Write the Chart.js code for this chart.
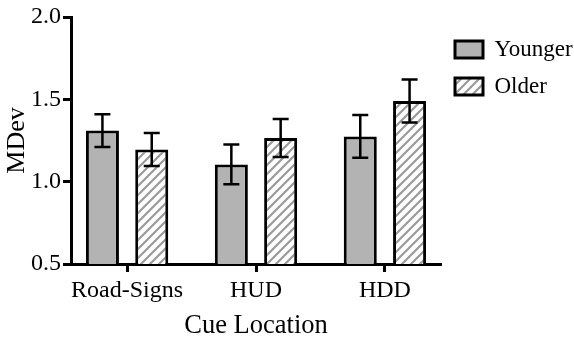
<!DOCTYPE html>
<html>
<head>
<meta charset="utf-8">
<script src="https://cdn.jsdelivr.net/npm/chart.js@4"></script>
<style>
  html, body { margin: 0; padding: 0; background: #fff; }
  #wrap { width: 574px; height: 337px; }
</style>
</head>
<body>
<div id="wrap"><canvas id="chart" width="574" height="337"></canvas></div>
<script>
const categories = ['Road-Signs', 'HUD', 'HDD'];
const youngerValues = [1.31, 1.105, 1.275];
const youngerErrors = [0.10, 0.12, 0.13];
const olderValues = [1.195, 1.265, 1.49];
const olderErrors = [0.10, 0.115, 0.13];
const yTicks = [0.5, 1.0, 1.5, 2.0];

const serif = 'Liberation Serif';

// diagonal hatch for the Older bars
function makeHatch() {
    const size = 9;
    const c = document.createElement('canvas');
    c.width = size;
    c.height = size;
    const g = c.getContext('2d');
    g.fillStyle = '#ffffff';
    g.fillRect(0, 0, size, size);
    g.strokeStyle = '#9a9a9a';
    g.lineWidth = 2.2;
    g.beginPath();
    g.moveTo(-2, size + 2); g.lineTo(size + 2, -2);
    g.moveTo(-2, 2); g.lineTo(2, -2);
    g.moveTo(size - 2, size + 2); g.lineTo(size + 2, size - 2);
    g.stroke();
    return g.createPattern(c, 'repeat');
}

const errorBars = {
    id: 'errorBars',
    afterDatasetsDraw(chart) {
        const ctx = chart.ctx;
        const yScale = chart.scales.y;
        ctx.save();
        ctx.strokeStyle = '#000';
        ctx.lineWidth = 2.5;
        chart.data.datasets.forEach((ds, di) => {
            const meta = chart.getDatasetMeta(di);
            meta.data.forEach((bar, i) => {
                const v = ds.data[i].y;
                const e = ds.errors[i];
                const top = yScale.getPixelForValue(v + e);
                const bot = yScale.getPixelForValue(v - e);
                const cap = 8;
                ctx.beginPath();
                ctx.moveTo(bar.x, top); ctx.lineTo(bar.x, bot);
                ctx.moveTo(bar.x - cap, top); ctx.lineTo(bar.x + cap, top);
                ctx.moveTo(bar.x - cap, bot); ctx.lineTo(bar.x + cap, bot);
                ctx.stroke();
            });
        });
        ctx.restore();
    }
};

const ctx = document.getElementById('chart').getContext('2d');
new Chart(ctx, {
    type: 'bar',
    data: {
        datasets: [{
            label: 'Younger',
            data: categories.map((c, i) => ({ x: i, y: youngerValues[i] })),
            errors: youngerErrors,
            backgroundColor: '#b3b3b3',
            borderColor: '#000',
            borderWidth: 3,
            borderSkipped: false
        }, {
            label: 'Older',
            data: categories.map((c, i) => ({ x: i, y: olderValues[i] })),
            errors: olderErrors,
            backgroundColor: makeHatch(),
            borderColor: '#000',
            borderWidth: 3,
            borderSkipped: false
        }]
    },
    options: {
        responsive: false,
        animation: false,
        categoryPercentage: 0.765,
        barPercentage: 0.67,
        layout: { padding: { top: 17, right: 0, left: 0, bottom: 0 } },
        scales: {
            x: {
                type: 'linear',
                min: -0.435,
                max: 2.435,
                offset: false,
                afterBuildTicks: scale => {
                    scale.ticks = categories.map((c, i) => ({ value: i }));
                },
                afterFit: scale => { scale.height = 73; },
                ticks: {
                    callback: v => categories[v] ?? '',
                    color: '#000',
                    font: { family: serif, size: 24 },
                    padding: 4,
                    maxRotation: 0,
                    autoSkip: false
                },
                grid: {
                    offset: false,
                    drawOnChartArea: false,
                    tickLength: 8,
                    tickWidth: 3,
                    tickColor: '#000'
                },
                border: { color: '#000', width: 3 },
                title: {
                    display: true,
                    text: 'Cue Location',
                    color: '#000',
                    font: { family: serif, size: 26.5, lineHeight: 0.85 },
                    padding: { top: 0, bottom: 0 }
                }
            },
            y: {
                min: 0.5,
                max: 2.0,
                afterBuildTicks: scale => {
                    scale.ticks = yTicks.map(v => ({ value: v }));
                },
                afterFit: scale => { scale.width = 71; },
                ticks: {
                    callback: v => v.toFixed(1),
                    color: '#000',
                    font: { family: serif, size: 24 },
                    padding: 2
                },
                grid: {
                    drawOnChartArea: false,
                    tickLength: 8,
                    tickWidth: 3,
                    tickColor: '#000'
                },
                border: { color: '#000', width: 3 },
                title: {
                    display: true,
                    text: 'MDev',
                    color: '#000',
                    font: { family: serif, size: 26, lineHeight: 1.2 },
                    padding: { top: 2, bottom: 0 }
                }
            }
        },
        plugins: {
            legend: {
                position: 'right',
                align: 'start',
                maxWidth: 133,
                title: {
                    display: true,
                    text: ' ',
                    font: { size: 1, lineHeight: 1 },
                    padding: { top: 0, bottom: 6 }
                },
                labels: {
                    color: '#000',
                    font: { family: serif, size: 23 },
                    boxWidth: 28,
                    boxHeight: 17,
                    padding: 14
                }
            },
            tooltip: { enabled: false }
        }
    },
    plugins: [errorBars]
});
</script>
</body>
</html>
